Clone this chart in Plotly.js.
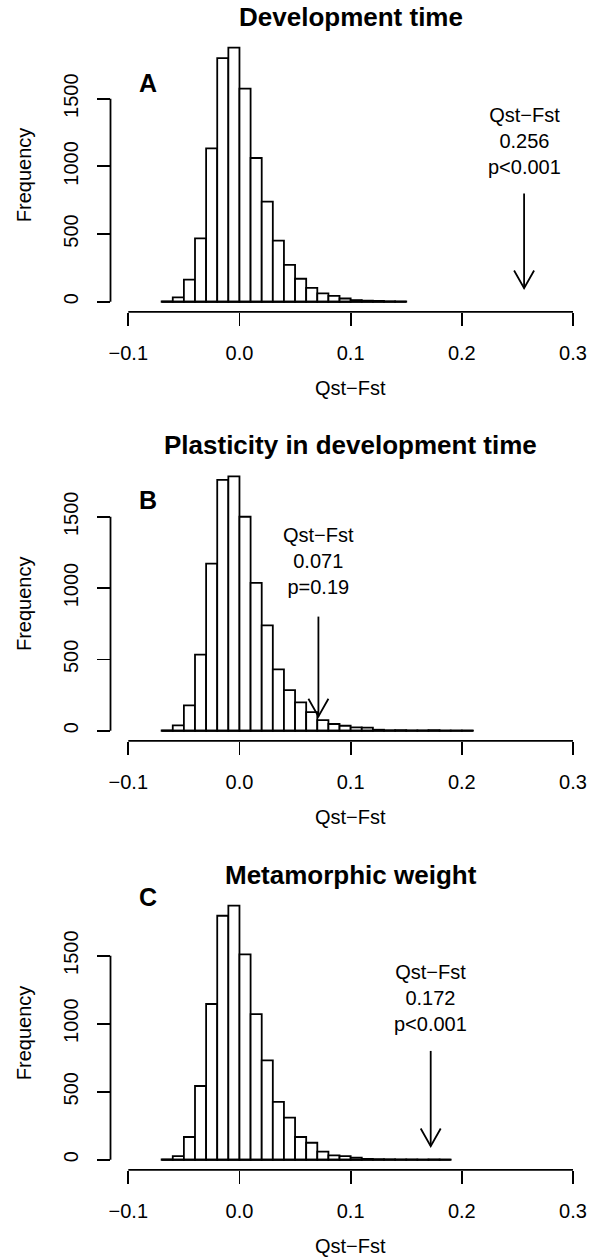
<!DOCTYPE html>
<html><head><meta charset="utf-8">
<script src="https://cdn.plot.ly/plotly-3.0.1.min.js"></script>
<style>html,body{margin:0;padding:0;background:#fff}</style>
</head><body><div id="chart" style="width:597px;height:1257px"></div>
<script>
// ---- data ----
const binWidth = 0.01;
const binStart = [-0.07, -0.07, -0.07];
const countsDevTime = [2, 32, 163, 468, 1133, 1800, 1877, 1574, 1062, 739, 451, 273, 170, 103, 62, 44, 24, 12, 8, 6, 3, 2];
const countsPlasticity = [3, 37, 178, 533, 1171, 1759, 1783, 1500, 1037, 738, 430, 285, 199, 131, 75, 47, 35, 24, 22, 7, 3, 4, 2, 2, 4, 1, 1, 1];
const countsMetaWeight = [3, 27, 167, 542, 1145, 1794, 1868, 1510, 1071, 730, 426, 309, 167, 125, 60, 32, 27, 15, 6, 4, 3, 2, 2, 1, 2, 1];
const panelTitles = ['Development time', 'Plasticity in development time', 'Metamorphic weight'];
const panelLetters = ['A', 'B', 'C'];
const observed = [0.256, 0.071, 0.172];
const observedText = ['0.256', '0.071', '0.172'];
const pText = ['p<0.001', 'p=0.19', 'p<0.001'];
const xTickVals = [-0.1, 0, 0.1, 0.2, 0.3];
const xTickText = ['\u22120.1', '0.0', '0.1', '0.2', '0.3'];
const yTickVals = [0, 500, 1000, 1500];
const xLabel = 'Qst\u2212Fst';
const yLabel = 'Frequency';
const arrowFrom = 800, arrowTo = 100;

// ---- layout ----
const allCounts = [countsDevTime, countsPlasticity, countsMetaWeight];
const W = 597, H = 1257;
const plotLeft = 110.5, plotRight = 590.8;
const tops = [37.5, 466.2, 895.5];
const bottoms = [311.9, 740.9, 1169.9];
const letterY = [1616, 1617, 1929];
const FONT = 'Liberation Sans, Arial, Helvetica, sans-serif';
const LW = 1.8;

const traces = [];
const layout = {
  width: W, height: H,
  margin: {l: 0, r: 0, t: 0, b: 0},
  paper_bgcolor: '#fff', plot_bgcolor: '#fff',
  showlegend: false,
  bargap: 0,
  font: {family: FONT, size: 20, color: '#000'},
  shapes: [], annotations: []
};

allCounts.forEach((counts, i) => {
  const n = i === 0 ? '' : String(i + 1);
  const xa = 'x' + n, ya = 'y' + n;
  const centers = counts.map((_, k) => binStart[i] + (k + 0.5) * binWidth);
  const maxC = Math.max(...counts);
  traces.push({
    type: 'bar', x: centers, y: counts, width: binWidth,
    xaxis: xa, yaxis: ya,
    marker: {color: '#fff', line: {color: '#000', width: LW}},
    hoverinfo: 'skip'
  });
  layout['xaxis' + n] = {
    domain: [plotLeft / W, plotRight / W], anchor: ya,
    range: [-0.116, 0.316], showgrid: false, zeroline: false, showline: false,
    tickvals: xTickVals, ticktext: xTickText, ticks: 'outside', ticklen: 13,
    tickwidth: LW, tickcolor: '#000', tickfont: {size: 20, family: FONT},
    ticklabelstandoff: 10
  };
  layout['yaxis' + n] = {
    domain: [1 - bottoms[i] / H, 1 - tops[i] / H], anchor: xa,
    range: [-0.04 * maxC, 1.04 * maxC], showgrid: false, zeroline: false, showline: false,
    tickvals: yTickVals, ticks: 'outside', ticklen: 13, tickangle: -90,
    tickwidth: LW, tickcolor: '#000', tickfont: {size: 20, family: FONT},
    ticklabelstandoff: 11
  };
  const ln = {color: '#000', width: LW};
  // axis lines (R style, only across tick range)
  layout.shapes.push({type: 'line', xref: xa, yref: ya + ' domain', x0: xTickVals[0], x1: xTickVals[xTickVals.length - 1], y0: 0, y1: 0, line: ln});
  layout.shapes.push({type: 'line', xref: xa + ' domain', yref: ya, x0: 0, x1: 0, y0: yTickVals[0], y1: yTickVals[yTickVals.length - 1], line: ln});
  // histogram baseline
  layout.shapes.push({type: 'line', xref: xa, yref: ya, x0: binStart[i], x1: binStart[i] + counts.length * binWidth, y0: 0, y1: 0, line: ln});
  // arrow
  layout.shapes.push({type: 'line', xref: xa, yref: ya, x0: observed[i], x1: observed[i], y0: arrowFrom, y1: arrowTo, line: ln});
  layout.shapes.push({type: 'path', xref: xa, yref: ya, xsizemode: 'pixel', ysizemode: 'pixel',
    xanchor: observed[i], yanchor: arrowTo, path: 'M-10,17.7L0,0L10,17.7', line: ln});
  // texts
  layout.annotations.push({xref: xa + ' domain', yref: ya + ' domain', x: 0.5, y: 1, yshift: 21,
    text: '<b>' + panelTitles[i] + '</b>', showarrow: false, xanchor: 'center', yanchor: 'middle',
    font: {size: 26, family: FONT}});
  layout.annotations.push({xref: xa, yref: ya, x: -0.0825, y: letterY[i],
    text: '<b>' + panelLetters[i] + '</b>', showarrow: false, xanchor: 'center', yanchor: 'middle',
    font: {size: 25, family: FONT}});
  layout.annotations.push({xref: xa, yref: ya + ' domain', x: 0.1, y: 0, yshift: -76.5,
    text: xLabel, showarrow: false, xanchor: 'center', yanchor: 'middle', font: {size: 20, family: FONT}});
  layout.annotations.push({xref: xa + ' domain', yref: ya + ' domain', x: 0, y: 0.5, xshift: -87,
    text: yLabel, textangle: -90, showarrow: false, xanchor: 'center', yanchor: 'middle', font: {size: 20, family: FONT}});
  layout.annotations.push({xref: xa, yref: ya, x: observed[i], y: 1190,
    text: xLabel + '<br>' + observedText[i] + '<br>' + pText[i], showarrow: false,
    xanchor: 'center', yanchor: 'middle', align: 'center', font: {size: 20, family: FONT}});
});

Plotly.newPlot('chart', traces, layout, {staticPlot: true, displayModeBar: false});
</script>
</body></html>
